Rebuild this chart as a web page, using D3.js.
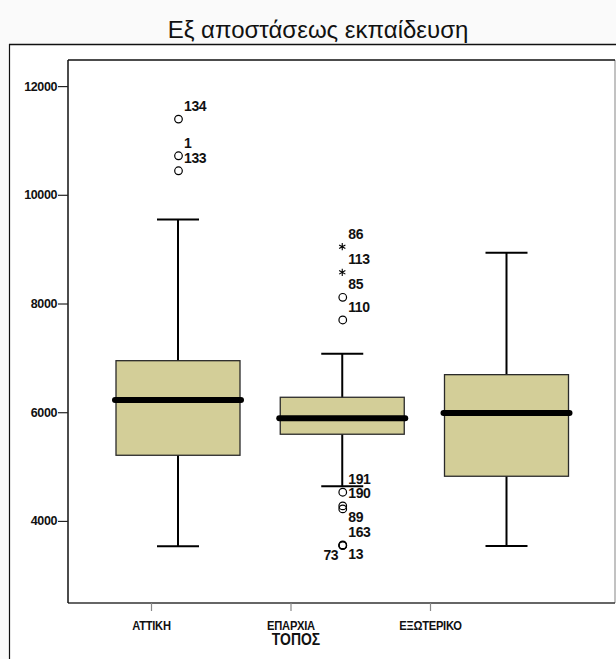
<!DOCTYPE html>
<html>
<head>
<meta charset="utf-8">
<script src="https://cdn.jsdelivr.net/npm/d3@7"></script>
<style>
  body { margin: 0; background: #fafafa; }
  svg { display: block; }
</style>
</head>
<body>
<script>
var width = 616, height = 659;
var plot_left = 68, plot_top = 60, plot_right = 615, plot_bottom = 603;

// box summaries per category
var categories = ['ΑΤΤΙΚΗ', 'ΕΠΑΡΧΙΑ', 'ΕΞΩΤΕΡΙΚΟ'];
var whisker_low = [3535, 4638, 3540];
var q1 = [5208, 5595, 4822];
var medians = [6225, 5889, 5986];
var q3 = [6948, 6275, 6691];
var whisker_high = [9547, 7077, 8934];

// outliers (o) and extremes (*)
var out_cat = ['ΑΤΤΙΚΗ', 'ΑΤΤΙΚΗ', 'ΑΤΤΙΚΗ',
               'ΕΠΑΡΧΙΑ', 'ΕΠΑΡΧΙΑ', 'ΕΠΑΡΧΙΑ', 'ΕΠΑΡΧΙΑ', 'ΕΠΑΡΧΙΑ',
               'ΕΠΑΡΧΙΑ', 'ΕΠΑΡΧΙΑ', 'ΕΠΑΡΧΙΑ', 'ΕΠΑΡΧΙΑ', 'ΕΠΑΡΧΙΑ'];
var out_val = [11393, 10718, 10442,
               9045, 8574, 8114, 7697, 4528, 4276, 4221, 3559, 3552, 3545];
var out_id = ['134', '1', '133',
              '86', '113', '85', '110', '191', '190', '89', '163', '73', '13'];
var out_kind = ['o', 'o', 'o', '*', '*', 'o', 'o', 'o', 'o', 'o', 'o', 'o', 'o'];
// where each case label sits: upper right, lower right, lower left
var out_label_at = ['ur', 'ur', 'ur', 'ur', 'ur', 'ur', 'ur', 'ur', 'ur', 'lr', 'ur', 'll', 'lr'];

var y_ticks = [4000, 6000, 8000, 10000, 12000];

var boxes = categories.map(function(c, i) {
	return {cat: c, lo: whisker_low[i], q1: q1[i], med: medians[i], q3: q3[i], hi: whisker_high[i]};
});
var outliers = out_val.map(function(v, i) {
	return {cat: out_cat[i], value: v, id: out_id[i], kind: out_kind[i], at: out_label_at[i]};
});

var num_font = '"Liberation Sans", Arial, sans-serif';

function plot_it() {
	var svg = d3.select('body').append('svg').attr('width', width).attr('height', height);

	// chart frame under the title
	svg.append('rect')
		.attr('x', 9).attr('y', 44)
		.attr('width', width).attr('height', height)
		.attr('fill', '#ffffff');
	svg.append('line')
		.attr('x1', 9).attr('x2', width).attr('y1', 44.5).attr('y2', 44.5)
		.attr('stroke', '#111').attr('stroke-width', 1.5);
	svg.append('line')
		.attr('x1', 9.5).attr('x2', 9.5).attr('y1', 44).attr('y2', height)
		.attr('stroke', '#111').attr('stroke-width', 1.2);

	svg.append('text')
		.attr('x', 318).attr('y', 38)
		.attr('text-anchor', 'middle')
		.style('font-family', num_font)
		.style('font-size', '24px')
		.attr('fill', '#111')
		.text('Εξ αποστάσεως εκπαίδευση');

	// Scales
	var yScale = d3.scaleLinear().domain([2490, 12480]).range([plot_bottom, plot_top]);
	var xBox = d3.scalePoint().domain(categories).range([178, 506.5]);
	var xTick = d3.scalePoint().domain(categories).range([151, 430]);
	var box_w = 124, cap_w = 42;

	// plot area border
	var g = svg.append('g').attr('class', 'mainplot');
	g.append('line').attr('x1', plot_right).attr('x2', plot_right).attr('y1', plot_top).attr('y2', plot_bottom)
		.attr('stroke', '#999').attr('stroke-width', 1.2);
	g.append('line').attr('x1', plot_left).attr('x2', plot_right).attr('y1', plot_bottom).attr('y2', plot_bottom)
		.attr('stroke', '#333').attr('stroke-width', 1.5);
	g.append('line').attr('x1', plot_left).attr('x2', plot_right).attr('y1', plot_top).attr('y2', plot_top)
		.attr('stroke', '#111').attr('stroke-width', 1.5);
	g.append('line').attr('x1', plot_left).attr('x2', plot_left).attr('y1', plot_top).attr('y2', plot_bottom)
		.attr('stroke', '#111').attr('stroke-width', 1.5);

	// Axes
	var yAxis = g.append('g')
		.attr('transform', 'translate(' + plot_left + ',0)')
		.call(d3.axisLeft(yScale).tickValues(y_ticks).tickSize(10).tickPadding(1).tickFormat(d3.format('d')));
	yAxis.select('.domain').remove();
	yAxis.selectAll('line').attr('stroke', '#222').attr('stroke-width', 1.2);
	yAxis.selectAll('text')
		.style('font-family', num_font).style('font-size', '12.5px').style('font-weight', 'bold')
		.style('letter-spacing', '-0.4px').attr('fill', '#111');

	var xAxis = g.append('g')
		.attr('transform', 'translate(0,' + plot_bottom + ')')
		.call(d3.axisBottom(xTick).tickSize(8).tickPadding(10));
	xAxis.select('.domain').remove();
	xAxis.selectAll('line').attr('stroke', '#888').attr('stroke-width', 1.2);
	// labels are squeezed sideways like the condensed font of the original
	xAxis.selectAll('text')
		.attr('transform', 'scale(0.86,1)')
		.style('font-family', num_font).style('font-size', '13px').style('font-weight', 'bold')
		.style('letter-spacing', '-0.3px').attr('fill', '#111');

	g.append('text')
		.attr('transform', 'translate(296,645) scale(0.82,1)')
		.attr('text-anchor', 'middle')
		.style('font-family', num_font).style('font-size', '17px').style('font-weight', 'bold')
		.attr('fill', '#111')
		.text('ΤΟΠΟΣ');

	// Whiskers
	var bg = g.append('g').attr('class', 'boxes');
	var b = bg.selectAll('g.box').data(boxes).enter().append('g').attr('class', 'box');
	b.append('line')
		.attr('x1', d => xBox(d.cat)).attr('x2', d => xBox(d.cat))
		.attr('y1', d => yScale(d.lo)).attr('y2', d => yScale(d.hi))
		.attr('stroke', '#000').attr('stroke-width', 2);
	b.append('line')
		.attr('x1', d => xBox(d.cat) - cap_w / 2).attr('x2', d => xBox(d.cat) + cap_w / 2)
		.attr('y1', d => yScale(d.lo)).attr('y2', d => yScale(d.lo))
		.attr('stroke', '#000').attr('stroke-width', 2);
	b.append('line')
		.attr('x1', d => xBox(d.cat) - cap_w / 2).attr('x2', d => xBox(d.cat) + cap_w / 2)
		.attr('y1', d => yScale(d.hi)).attr('y2', d => yScale(d.hi))
		.attr('stroke', '#000').attr('stroke-width', 2);
	b.append('rect')
		.attr('x', d => xBox(d.cat) - box_w / 2)
		.attr('y', d => yScale(d.q3))
		.attr('width', box_w)
		.attr('height', d => yScale(d.q1) - yScale(d.q3))
		.attr('fill', '#d3ce98')
		.attr('stroke', '#2a2a2a').attr('stroke-width', 1.3);
	b.append('line')
		.attr('x1', d => xBox(d.cat) - box_w / 2 - 1).attr('x2', d => xBox(d.cat) + box_w / 2 + 1)
		.attr('y1', d => yScale(d.med)).attr('y2', d => yScale(d.med))
		.attr('stroke', '#000').attr('stroke-width', 6).attr('stroke-linecap', 'round');

	// Outliers
	var og = g.append('g').attr('class', 'outliers');
	og.selectAll('circle').data(outliers.filter(d => d.kind == 'o'))
		.enter().append('circle')
		.attr('cx', d => xBox(d.cat) + 0.5)
		.attr('cy', d => yScale(d.value))
		.attr('r', 3.8)
		.attr('fill', 'none')
		.attr('stroke', '#000').attr('stroke-width', 1.2);
	og.selectAll('path.star').data(outliers.filter(d => d.kind == '*'))
		.enter().append('path')
		.attr('class', 'star')
		.attr('transform', d => 'translate(' + xBox(d.cat) + ',' + yScale(d.value) + ')')
		.attr('d', d3.symbol(d3.symbolAsterisk, 36))
		.attr('fill', 'none')
		.attr('stroke', '#000').attr('stroke-width', 1.1);

	var dx = {ur: 6, lr: 6, ll: -4}, dy = {ur: -8, lr: 13, ll: 15};
	og.selectAll('text.case').data(outliers)
		.enter().append('text')
		.attr('class', 'case')
		.attr('x', d => xBox(d.cat) + dx[d.at])
		.attr('y', d => yScale(d.value) + dy[d.at])
		.attr('text-anchor', d => d.at == 'll' ? 'end' : 'start')
		.style('font-family', num_font).style('font-size', '14px').style('font-weight', 'bold')
		.style('letter-spacing', '-0.4px').attr('fill', '#111')
		.text(d => d.id);
}

plot_it();
</script>
</body>
</html>
